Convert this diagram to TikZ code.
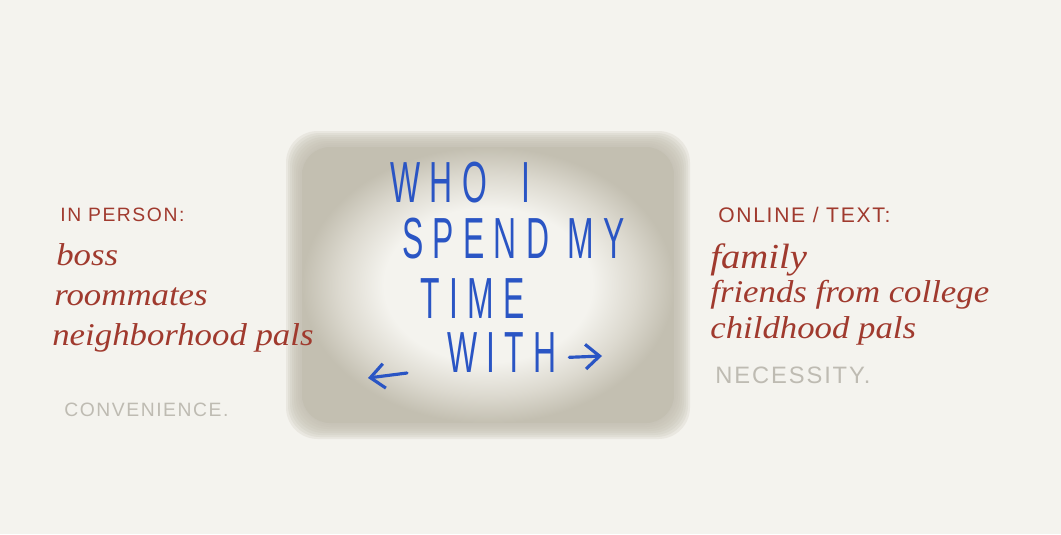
\documentclass[tikz,border=0pt]{standalone}
\usepackage{xcolor}
\usepackage{fontspec}
\usepackage{tikz}
\usetikzlibrary{arrows.meta}

\setmainfont{Liberation Serif}
\newfontfamily\bigcaps[FakeStretch=0.55,LetterSpace=16]{Liberation Sans}
\newfontfamily\labelfont[LetterSpace=8]{Liberation Sans}
\newfontfamily\penfont[FakeStretch=1.1]{Liberation Serif}

\definecolor{paper}{HTML}{F4F3EE}
\definecolor{boxgray}{HTML}{C3BFB1}
\definecolor{boxlight}{HTML}{DCD9CF}
\definecolor{inkblue}{HTML}{2A55C4}
\definecolor{inkred}{HTML}{A03A2E}
\definecolor{inkgray}{HTML}{BEBBB2}

\pgfdeclareradialshading{glow}{\pgfpoint{0bp}{0bp}}{color(0bp)=(paper); color(14bp)=(paper); color(20bp)=(boxlight); color(25bp)=(boxgray); color(50bp)=(boxgray)}

\begin{document}
\begin{tikzpicture}[
  x=0.02cm, y=-0.02cm,
  bigword/.style={anchor=base west, inner sep=0pt, text=inkblue, font=\bigcaps\fontsize{33}{33}\selectfont},
  heading/.style={anchor=base west, inner sep=0pt, text=inkred, font=\labelfont\fontsize{11}{13}\selectfont},
  penline/.style={anchor=base west, inner sep=0pt, text=inkred, font=\penfont\itshape\fontsize{18}{20}\selectfont},
  verdict/.style={anchor=base west, inner sep=0pt, text=inkgray, font=\labelfont\fontsize{11}{13}\selectfont},
  inkarrow/.style={-{Straight Barb[length=8pt,width=14pt]}, line width=1.8pt, draw=inkblue, line cap=round},
]

% Paper
\fill[paper] (0,0) rectangle (1061,534);
\useasboundingbox (0,0) rectangle (1061,534);

% Smudged box
\foreach \d in {14,12,...,0}
  \fill[boxgray, opacity=0.22, rounded corners=18] (300-\d,145-\d) rectangle (676+\d,425+\d);
\shade[shading=glow, rounded corners=16] (302,147) rectangle (674,423);

% Center words
\node[bigword] (who) at (390,202) {WHO\hspace{0.6em}I};
\node[bigword] (spend) at (402,258) {SPEND MY};
\node[bigword] (time) at (420,318) {TIME};
\node[bigword] (with) at (447,372) {WITH};

\coordinate (rightend) at (602,356);
\coordinate (leftstart) at (407,373);
\coordinate (leftend) at (368,378);
\draw[inkarrow] ([shift={(7pt,-3pt)}]with.east) -- (rightend);
\draw[inkarrow] (leftstart) -- (leftend);

% In person
\node[heading] (inperson) at (60,221) {IN PERSON:};
\node[penline] (boss) at (56,265) {boss};
\node[penline] (roommates) at (54,305) {roommates};
\node[penline] (neighborhood) at (52,345) {neighborhood pals};
\node[verdict] (convenience) at (64,416) {CONVENIENCE.};

% Online / text
\node[heading, font=\labelfont\fontsize{12}{14}\selectfont] (online) at (718,222) {ONLINE / TEXT:};
\node[penline, font=\penfont\itshape\fontsize{20}{22}\selectfont] (family) at (710,268) {family};
\node[penline] (friends) at (710,302) {friends from college};
\node[penline] (childhood) at (710,338) {childhood pals};
\node[verdict, font=\labelfont\fontsize{13.5}{15}\selectfont] (necessity) at (715,383) {NECESSITY.};

\end{tikzpicture}
\end{document}
